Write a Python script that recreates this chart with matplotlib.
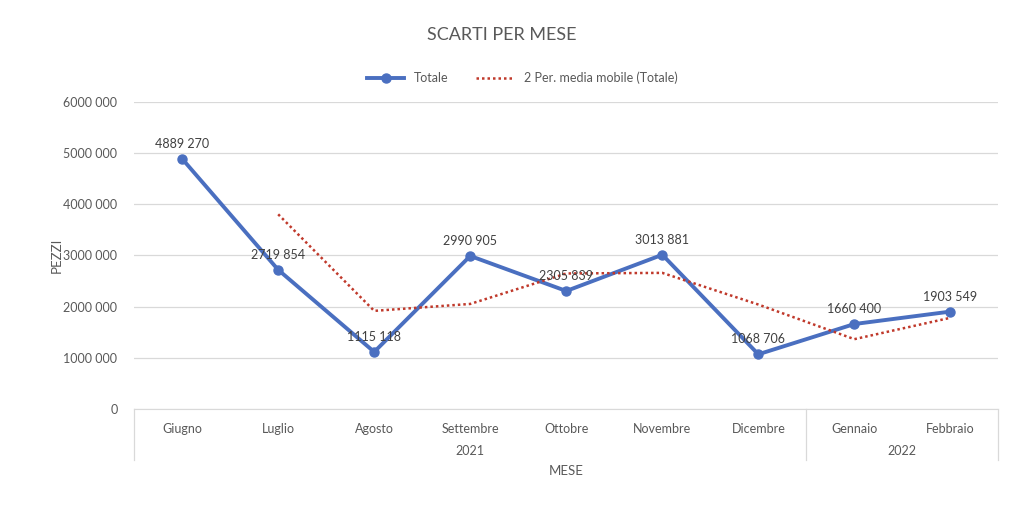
import numpy as np
import matplotlib.pyplot as plt
import matplotlib.transforms as mtransforms

plt.rcParams['font.family'] = ['Lato', 'DejaVu Sans']

months = ["Giugno", "Luglio", "Agosto", "Settembre", "Ottobre", "Novembre",
          "Dicembre", "Gennaio", "Febbraio"]
years = ["2021", "2022"]
year_counts = [7, 2]
totale = [4889270, 2719854, 1115118, 2990905, 2305839, 3013881,
          1068706, 1660400, 1903549]
# 2 period moving average as drawn (starts at Luglio)
media_mobile = [3804562, 1917486, 2053011, 2648372, 2659860,
                2041293, 1364553, 1781974]
yticks = [0, 1000000, 2000000, 3000000, 4000000, 5000000, 6000000]


def fmt(v):
    s = str(int(v))
    if len(s) > 3:
        return s[:-3] + " " + s[-3:]
    return s


text_col = "#595959"
blue = "#4a6fc0"
red = "#c0392b"

fig = plt.figure(figsize=(10.24, 5.24), dpi=100)
ax = fig.add_axes([0.131, 0.2195, 0.844, 0.5859])

x = np.arange(len(months))
ax.plot(x, totale, color=blue, lw=2.8, marker="o", ms=6.5,
        label="Totale", zorder=3)
ax.plot(x[1:], media_mobile, color=red, lw=1.8, ls=(0, (1, 1.2)),
        label="2 Per. media mobile (Totale)", zorder=4)

for xi, v in zip(x, totale):
    ax.annotate(fmt(v), (xi, v), xytext=(0, 6.5), textcoords="offset points",
                ha="center", va="bottom", fontsize=9, color="#404040", zorder=5)

ax.set_xlim(-0.5, len(months) - 0.5)
ax.set_ylim(0, 6000000)
ax.set_yticks(yticks)
ax.set_yticklabels([fmt(v) for v in yticks], fontsize=9, color=text_col)
ax.yaxis.grid(True, color="#d9d9d9", lw=0.9)
ax.set_axisbelow(True)
for s in ["top", "right", "left"]:
    ax.spines[s].set_visible(False)
ax.spines["bottom"].set_color("#d9d9d9")
ax.tick_params(axis="y", length=0, pad=12)
ax.tick_params(axis="x", length=0)
ax.set_xticks(x)
ax.set_xticklabels(months, fontsize=9, color=text_col)
ax.tick_params(axis="x", pad=10)

trans = mtransforms.blended_transform_factory(ax.transData, ax.transAxes)
# category group separators
bounds = [-0.5]
for c in year_counts:
    bounds.append(bounds[-1] + c)
for b in bounds:
    ax.plot([b, b], [0, -0.166], transform=trans, color="#d9d9d9",
            lw=0.9, clip_on=False)
for i, yr in enumerate(years):
    mid = (bounds[i] + bounds[i + 1]) / 2
    ax.text(mid, -0.137, yr, transform=trans, ha="center", va="center",
            fontsize=9, color=text_col)

ax.text(0.5, -0.203, "MESE", transform=ax.transAxes, ha="center",
        va="center", fontsize=9.5, color=text_col)
ax.set_ylabel("PEZZI", fontsize=9.5, color=text_col, va="center")
ax.yaxis.set_label_coords(-0.089, 0.5)

fig.text(0.49, 0.933, "SCARTI PER MESE", ha="center", va="center",
         fontsize=13, color=text_col)
ax.legend(loc="center", bbox_to_anchor=(0.449, 1.078), ncol=2, frameon=False,
          fontsize=9, labelcolor=text_col, handlelength=3.0, columnspacing=2.2)

fig.savefig("out.png", dpi=100)
